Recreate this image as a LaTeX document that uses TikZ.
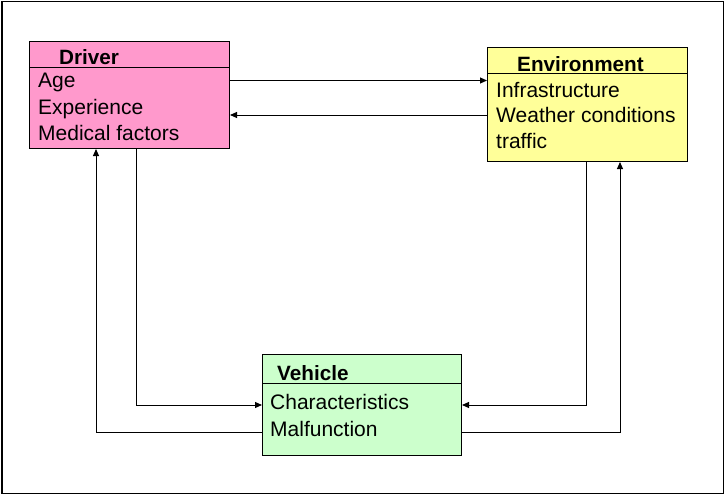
\documentclass[tikz,border=0pt]{standalone}
\usepackage{fontspec}
\setmainfont{Liberation Sans}
\usetikzlibrary{arrows.meta,positioning,calc}
\definecolor{DrvPink}{HTML}{FF99CC}
\definecolor{EnvYellow}{HTML}{FFFF99}
\definecolor{VehGreen}{HTML}{CCFFCC}

\begin{document}
\begin{tikzpicture}[x=1pt,y=-1pt,
    box/.style={draw=black,line width=1pt,inner sep=0pt,anchor=north west},
    head/.style={inner sep=0pt,anchor=base west,font=\fontsize{20.7}{24}\selectfont\bfseries},
    item/.style={inner sep=0pt,anchor=base west,font=\fontsize{21}{24}\selectfont},
    arrow/.style={-{Triangle[length=7pt,width=6pt]},line width=1pt}
  ]
    \useasboundingbox (0,0) rectangle (726,495);
    \draw[line width=1.2pt] (2,1.5) rectangle (723.5,493.5);

    % boxes
    \node[box,fill=DrvPink,minimum width=200pt,minimum height=107pt] (driver) at (29,41) {};
    \node[box,fill=EnvYellow,minimum width=200pt,minimum height=114pt] (env) at (487,47) {};
    \node[box,fill=VehGreen,minimum width=199pt,minimum height=101pt] (veh) at (262,354) {};
    \draw[line width=1pt] ($(driver.north west)+(0,27)$) -- ($(driver.north east)+(0,27)$);
    \draw[line width=1pt] ($(env.north west)+(0,27)$) -- ($(env.north east)+(0,27)$);
    \draw[line width=1pt] ($(veh.north west)+(0,29)$) -- ($(veh.north east)+(0,29)$);

    % texts
    \node[head] (drvtitle) at (59,65) {Driver};
    \node[item] (age) at (38,88) {Age};
    \node[item] (exp) at (38,114) {Experience};
    \node[item] (med) at (38,140) {Medical factors};
    \node[head] (envtitle) at (517,72) {Environment};
    \node[item] (infra) at (496,97) {Infrastructure};
    \node[item] (weather) at (496,122) {Weather conditions};
    \node[item] (traffic) at (496,148) {traffic};
    \node[head] (vehtitle) at (277,380) {Vehicle};
    \node[item] (charac) at (270,409) {Characteristics};
    \node[item] (malf) at (270,436) {Malfunction};

    % connectors
    \draw[arrow] ($(driver.north east)+(0,39.5)$) -- ($(env.north west)+(0,33.5)$);
    \draw[arrow] ($(env.north west)+(0,68)$) -- ($(driver.north east)+(0,74)$);
    \draw[arrow] ($(driver.south west)+(107,0)$) |- ($(veh.north west)+(0,51)$);
    \draw[arrow] ($(veh.north west)+(0,78)$) -| ($(driver.south west)+(67,0)$);
    \draw[arrow] ($(env.south west)+(99,0)$) |- ($(veh.north east)+(0,51)$);
    \draw[arrow] ($(veh.north east)+(0,78)$) -| ($(env.south west)+(133,0)$);
  \end{tikzpicture}
\end{document}
